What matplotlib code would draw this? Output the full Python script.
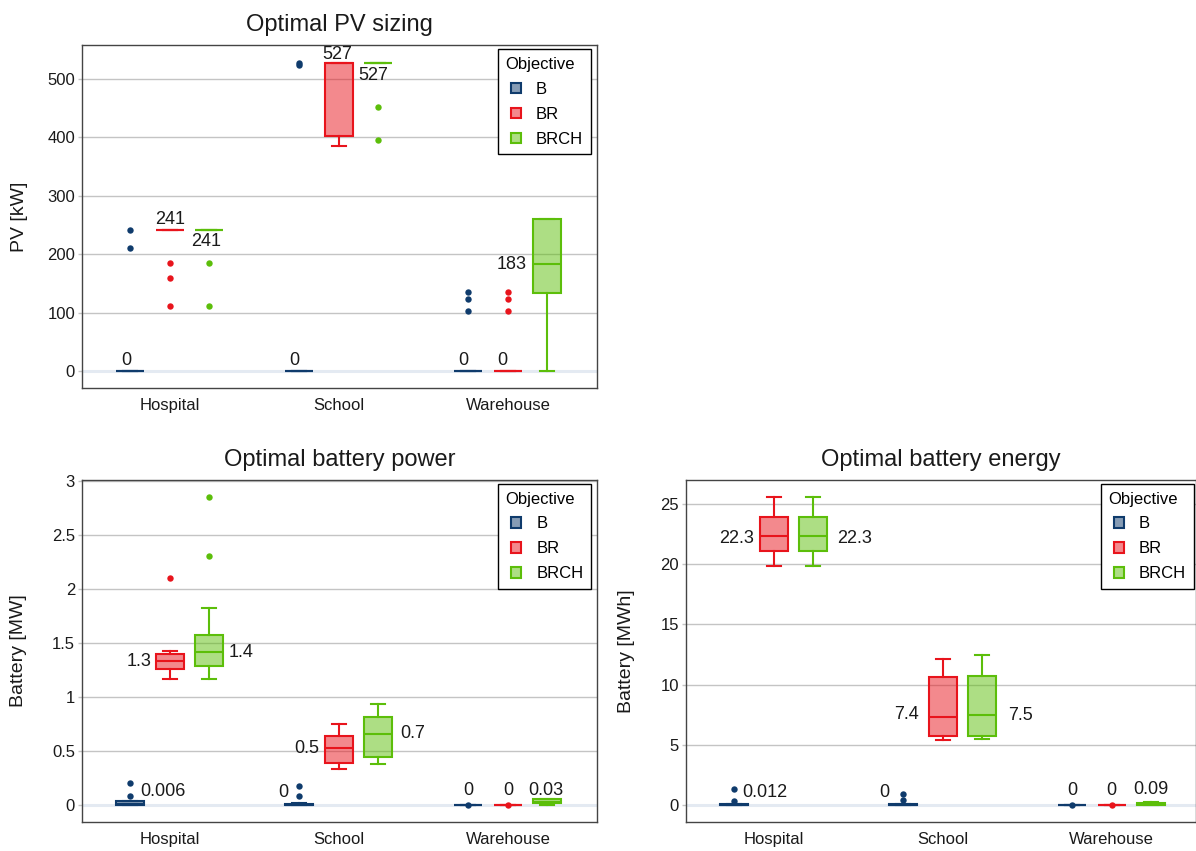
import matplotlib
matplotlib.use('Agg')
import matplotlib.pyplot as plt
import matplotlib.colors as mcolors
from matplotlib.patches import Rectangle
from matplotlib.legend_handler import HandlerPatch

plt.rcParams['font.family'] = ['Liberation Sans', 'DejaVu Sans']

# ---------------- data ----------------
sites = ['Hospital', 'School', 'Warehouse']
objectives = ['B', 'BR', 'BRCH']
colors = {'B': '#0f3b6c', 'BR': '#e8141c', 'BRCH': '#5cbe0a'}

# box statistics per objective, per site: (whisker low, q1, median, q3, whisker high)
pv_stats = {
    'B':    [(0, 0, 0, 0, 0), (0, 0, 0, 0, 0), (0, 0, 0, 0, 0)],
    'BR':   [(241, 241, 241, 241, 241), (386, 403, 527, 527, 527), (0, 0, 0, 0, 0)],
    'BRCH': [(241, 241, 241, 241, 241), (527, 527, 527, 527, 527), (0, 133, 184, 260, 260)],
}
pv_fliers = {
    'B':    [[241, 210], [524, 528], [135, 123, 103]],
    'BR':   [[185, 160, 112], [], [135, 123, 103]],
    'BRCH': [[185, 112], [452, 396], []],
}
pv_labels = {'B': ['0', '0', '0'], 'BR': ['241', '527', '0'], 'BRCH': ['241', '527', '183']}

pow_stats = {
    'B':    [(0, 0, 0.006, 0.037, 0.04), (0, 0, 0, 0.012, 0.02), (0, 0, 0, 0, 0)],
    'BR':   [(1.167, 1.26, 1.333, 1.40, 1.426), (0.333, 0.386, 0.531, 0.642, 0.75), (0, 0, 0, 0, 0)],
    'BRCH': [(1.167, 1.284, 1.42, 1.574, 1.82), (0.383, 0.442, 0.657, 0.815, 0.938), (0, 0.016, 0.03, 0.056, 0.06)],
}
pow_fliers = {
    'B':    [[0.2, 0.086], [0.176, 0.086], [0.003]],
    'BR':   [[2.105], [], [0.003]],
    'BRCH': [[2.85, 2.306], [], []],
}
pow_labels = {'B': ['0.006', '0', '0'], 'BR': ['1.3', '0.5', '0'], 'BRCH': ['1.4', '0.7', '0.03']}

en_stats = {
    'B':    [(0, 0, 0.012, 0.05, 0.1), (0, 0, 0, 0.05, 0.1), (0, 0, 0, 0, 0)],
    'BR':   [(19.82, 21.13, 22.3, 23.92, 25.56), (5.4, 5.76, 7.34, 10.66, 12.13), (0, 0, 0, 0, 0)],
    'BRCH': [(19.82, 21.13, 22.3, 23.92, 25.56), (5.51, 5.76, 7.47, 10.74, 12.43), (0, 0.02, 0.09, 0.2, 0.25)],
}
en_fliers = {
    'B':    [[1.35, 0.3], [0.91, 0.41], [0.01]],
    'BR':   [[], [], [0.01]],
    'BRCH': [[], [], []],
}
en_labels = {'B': ['0.012', '0', '0'], 'BR': ['22.3', '7.4', '0'], 'BRCH': ['22.3', '7.5', '0.09']}

# ---------------- label placement (pixel offsets from box centre / median) ----------------
pv_off = {
    'B':    [(-4, 6.5, 'center'), (-5, 6.5, 'center'), (-5, 6.5, 'center')],
    'BR':   [(0, 6, 'center'), (-2, 4, 'center'), (-6, 6.5, 'center')],
    'BRCH': [(-3, -16, 'center'), (-5, -17, 'center'), (-21, -5, 'right')],
}
pow_off = {
    'B':    [(10, 8, 'left'), (-11, 8.5, 'right'), (0, 10.5, 'center')],
    'BR':   [(-18, -5, 'right'), (-20, -5.5, 'right'), (0, 10.5, 'center')],
    'BRCH': [(19, -5, 'left'), (22, -4, 'left'), (-2, 7, 'center')],
}
en_off = {
    'B':    [(8, 8, 'left'), (-14, 8, 'right'), (0, 10.5, 'center')],
    'BR':   [(-20, -6.5, 'right'), (-24, -2.6, 'right'), (0, 10.5, 'center')],
    'BRCH': [(24, -6.5, 'left'), (26, -4.5, 'left'), (0, 9.5, 'center')],
}

W, H = 1196, 851
fig = plt.figure(figsize=(W / 100, H / 100), dpi=100)


def px_axes(l, t, r, b):
    return fig.add_axes([l / W, 1 - b / H, (r - l) / W, (b - t) / H])


def square_handle(legend, orig_handle, xdescent, ydescent, width, height, fontsize):
    s = 7.4
    return Rectangle((-xdescent + width - s, -ydescent + (height - s) / 2), s, s)


def draw(ax, stats, fliers, labels, offsets, xlim, ylim, yticks, yticklabels, ylabel,
         title, leg_anchor, ylabel_x):
    step = 0.2337
    w = 0.166
    handles = []
    for j, obj in enumerate(objectives):
        c = colors[obj]
        fc = mcolors.to_rgba(c, 0.5)
        bstats = []
        for i in range(len(sites)):
            lo, q1, med, q3, hi = stats[obj][i]
            bstats.append(dict(whislo=lo, q1=q1, med=med, q3=q3, whishi=hi,
                               fliers=fliers[obj][i]))
        pos = [i + (j - 1) * step for i in range(len(sites))]
        ax.bxp(bstats, positions=pos, widths=w, capwidths=w / 2, patch_artist=True,
               showfliers=True, manage_ticks=False, zorder=3,
               boxprops=dict(facecolor=fc, edgecolor=c, linewidth=1.5),
               whiskerprops=dict(color=c, linewidth=1.5),
               capprops=dict(color=c, linewidth=1.5),
               medianprops=dict(color=c, linewidth=1.5),
               flierprops=dict(marker='o', markerfacecolor=c, markeredgecolor='none',
                               markersize=4.6))
        for i in range(len(sites)):
            dx, dy, ha = offsets[obj][i]
            ax.annotate(labels[obj][i], xy=(pos[i], stats[obj][i][2]), xytext=(dx, dy),
                        textcoords='offset pixels', ha=ha, va='baseline',
                        fontsize=13, color='#1a1a1a', zorder=5)
        handles.append(Rectangle((0, 0), 1, 1, facecolor=fc, edgecolor=c, linewidth=1.5))

    ax.set_xlim(*xlim)
    ax.set_ylim(*ylim)
    ax.set_xticks(range(len(sites)))
    ax.set_xticklabels(sites)
    ax.set_yticks(yticks)
    ax.set_yticklabels(yticklabels)
    ax.set_axisbelow(True)
    ax.yaxis.grid(True, color='#c4c4c4', linewidth=1.0, zorder=0.5)
    ax.xaxis.grid(False)
    ax.axhline(0, color='#e4eaf2', linewidth=2.2, zorder=1)
    ax.tick_params(axis='y', length=3, width=1, color='#c4c4c4', pad=2,
                   labelsize=12, labelcolor='#1a1a1a')
    ax.tick_params(axis='x', length=0, pad=7, labelsize=12, labelcolor='#1a1a1a')
    for sp in ax.spines.values():
        sp.set_color('#444444')
        sp.set_linewidth(1.0)
    ax.set_title(title, fontsize=17, pad=10, color='#1a1a1a')
    ax.set_ylabel(ylabel, fontsize=14, color='#1a1a1a')
    ax.yaxis.label.set_va('center')
    ax.yaxis.set_label_coords(ylabel_x, 0.5)
    leg = ax.legend(handles, objectives, title='Objective', loc='upper right',
                    bbox_to_anchor=leg_anchor, borderaxespad=0, frameon=True,
                    fancybox=False, edgecolor='black', framealpha=1, fontsize=12,
                    title_fontsize=12, handlelength=0.95, handleheight=0.7,
                    handletextpad=0.9, labelspacing=0.6, borderpad=0.45,
                    alignment='left',
                    handler_map={Rectangle: HandlerPatch(patch_func=square_handle)})
    leg.get_frame().set_linewidth(1.0)
    leg._legend_box.sep = 7
    leg.set_zorder(10)


ax1 = px_axes(82, 45, 597, 388)
draw(ax1, pv_stats, pv_fliers, pv_labels, pv_off, (-0.52, 2.527), (-29.1, 558.2),
     [0, 100, 200, 300, 400, 500], ['0', '100', '200', '300', '400', '500'],
     'PV [kW]', 'Optimal PV sizing', (0.9878, 0.9875), (19 - 82) / 515)

ax2 = px_axes(82, 480, 597, 822)
draw(ax2, pow_stats, pow_fliers, pow_labels, pow_off, (-0.52, 2.527), (-0.157, 3.009),
     [0, 0.5, 1, 1.5, 2, 2.5, 3], ['0', '0.5', '1', '1.5', '2', '2.5', '3'],
     'Battery [MW]', 'Optimal battery power', (0.988, 0.988), (19 - 82) / 515)

ax3 = px_axes(686, 480, 1196, 822)
draw(ax3, en_stats, en_fliers, en_labels, en_off, (-0.52, 2.50), (-1.41, 26.99),
     [0, 5, 10, 15, 20, 25], ['0', '5', '10', '15', '20', '25'],
     'Battery [MWh]', 'Optimal battery energy', (0.9955, 0.988), (627 - 686) / 510)

fig.savefig('out.png', dpi=100)
